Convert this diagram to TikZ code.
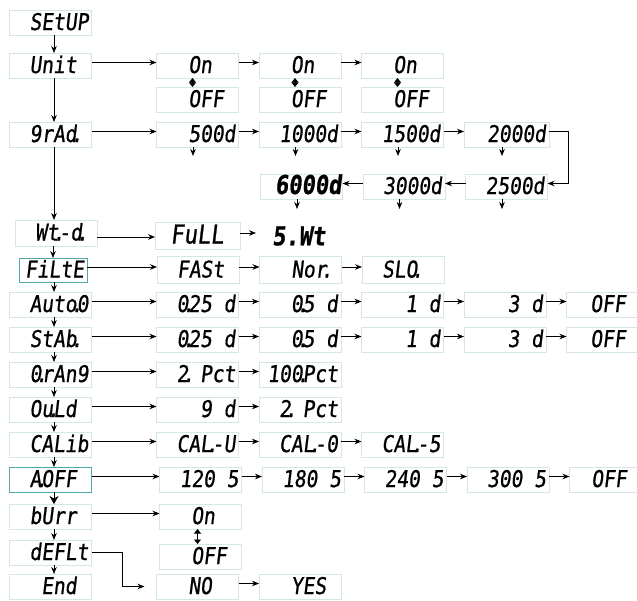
\documentclass[tikz,border=0pt]{standalone}
\usepackage{fontspec}
\usepackage{xcolor}
\usepackage{tikz}
\usetikzlibrary{arrows.meta, positioning}

\newfontfamily\lcdfont[FakeStretch=0.85, FakeSlant=0.12, FakeBold=0.8]{DejaVu Sans Mono}
\newcommand\lcd{\lcdfont\fontsize{23pt}{23pt}\selectfont}
\newcommand\lcdbig{\lcdfont\fontsize{26pt}{26pt}\selectfont}
\newcommand\blk{\phantom{0}}
\newcommand\lcdpt{\makebox[0pt]{.}}

\definecolor{boxline}{RGB}{212,230,230}
\definecolor{tealline}{RGB}{80,168,168}

\begin{document}
\begin{tikzpicture}
\tikzstyle{lcdbox} = [rectangle, draw=boxline, line width=0.8pt, outer sep=0pt, text width=76pt, align=right, inner xsep=3pt, inner ysep=2pt, minimum height=25pt, text height=17pt, text depth=2pt, font=\lcd]
\tikzstyle{arrow} = [line width=0.7pt, ->, >={Stealth[length=7pt, width=5.5pt]}]
\tikzstyle{hop} = [arrow, transform canvas={yshift=3pt}]
\tikzstyle{down} = [arrow, transform canvas={xshift=3.5pt}]
\tikzstyle{toggle} = [line width=0.7pt, {Triangle[length=4.5pt, width=7pt]}-{Triangle[length=4.5pt, width=7pt]}]

\useasboundingbox (0,0) rectangle (637pt,-600pt);

\node (setup) [lcdbox] at (50.5pt,-22.5pt) {SEtUP};
\node (unit) [lcdbox, below=18pt of setup] {Unit\blk};
\node (grad) [lcdbox, below=44pt of unit] {9rAd\lcdpt\blk};
\node (wtd) [lcdbox, below=73pt of grad, xshift=5.5pt, minimum height=26pt] {Wt\lcdpt-d\lcdpt\blk};
\node (filte) [lcdbox, draw=tealline, text width=62pt, minimum height=24pt, below=12pt of wtd, xshift=-3pt] {FiLtE};
\node (auto) [lcdbox, below=10pt of filte, xshift=-2.5pt] {Auto\lcdpt 0};
\node (stab) [lcdbox, below=10pt of auto] {StAb\lcdpt\blk};
\node (orang) [lcdbox, below=10pt of stab] {0\lcdpt rAn9};
\node (ould) [lcdbox, below=10pt of orang] {Ou\lcdpt Ld\blk};
\node (calib) [lcdbox, below=10pt of ould] {CALib};
\node (aoff) [lcdbox, draw=tealline, below=10pt of calib] {A\lcdpt OFF\blk};
\node (burr) [lcdbox, below=12pt of aoff] {bUrr\blk};
\node (deflt) [lcdbox, below=11pt of burr] {dEFLt};
\node (theend) [lcdbox, below=9pt of deflt] {End\blk};

\node (unon1) [lcdbox, right=65pt of unit] {On\blk\blk};
\node (unon2) [lcdbox, right=20.5pt of unon1] {On\blk\blk};
\node (unon3) [lcdbox, right=20.5pt of unon2] {On\blk\blk};
\node (unoff1) [lcdbox, below=9pt of unon1] {OFF\blk};
\node (unoff2) [lcdbox, below=9pt of unon2] {OFF\blk};
\node (unoff3) [lcdbox, below=9pt of unon3] {OFF\blk};

\node (gr500) [lcdbox, right=65pt of grad] {500d};
\node (gr1000) [lcdbox, right=20.5pt of gr500] {1000d};
\node (gr1500) [lcdbox, right=20.5pt of gr1000] {1500d};
\node (gr2000) [lcdbox, right=20.5pt of gr1500, text width=79pt] {2000d};
\node (gr2500) [lcdbox, below=27pt of gr2000] {2500d};
\node (gr3000) [lcdbox, left=20.5pt of gr2500] {3000d};
\node (gr6000) [lcdbox, left=20.5pt of gr3000, font=\lcdbig\bfseries, inner xsep=1pt, text width=80pt] {6000d};

\node (full) [lcdbox, font=\lcdbig, right=58pt of wtd, yshift=-3pt, minimum height=27pt, text width=79pt] {FuLL\blk};
\node (swt) [font=\lcdbig\bfseries, right=30pt of full, inner sep=2pt] {5.Wt};

\node (fast) [lcdbox, right=70pt of filte, minimum height=27pt] {FASt\blk};
\node (nor) [lcdbox, right=20.5pt of fast, minimum height=27pt] {Nor\lcdpt\blk};
\node (slo) [lcdbox, right=20.5pt of nor, minimum height=27pt] {SLO\lcdpt\blk\blk};

\node (au025) [lcdbox, right=65pt of auto] {0\lcdpt 25\blk d};
\node (au05) [lcdbox, right=20.5pt of au025] {0\lcdpt 5\blk d};
\node (au1) [lcdbox, right=20.5pt of au05] {1\blk d};
\node (au3) [lcdbox, right=20.5pt of au1] {3\blk d};
\node (auoff) [lcdbox, right=20.5pt of au3, text width=68pt] {OFF\blk};

\node (st025) [lcdbox, right=65pt of stab] {0\lcdpt 25\blk d};
\node (st05) [lcdbox, right=20.5pt of st025] {0\lcdpt 5\blk d};
\node (st1) [lcdbox, right=20.5pt of st05] {1\blk d};
\node (st3) [lcdbox, right=20.5pt of st1] {3\blk d};
\node (stoff) [lcdbox, right=20.5pt of st3, text width=68pt] {OFF\blk};

\node (or2) [lcdbox, right=65pt of orang] {2\lcdpt\blk Pct};
\node (or100) [lcdbox, right=20.5pt of or2] {100\lcdpt Pct};

\node (ol9) [lcdbox, right=65pt of ould] {9\blk d};
\node (ol2) [lcdbox, right=20.5pt of ol9] {2\lcdpt\blk Pct};

\node (calu) [lcdbox, right=65pt of calib] {CAL\lcdpt-U};
\node (calo) [lcdbox, right=20.5pt of calu] {CAL\lcdpt-0};
\node (cals) [lcdbox, right=20.5pt of calo] {CAL\lcdpt-5};

\node (t120) [lcdbox, right=68pt of aoff] {120\blk 5};
\node (t180) [lcdbox, right=20.5pt of t120] {180\blk 5};
\node (t240) [lcdbox, right=20.5pt of t180] {240\blk 5};
\node (t300) [lcdbox, right=20.5pt of t240] {300\blk 5};
\node (toff) [lcdbox, right=20.5pt of t300, text width=66pt] {OFF\blk};

\node (bon) [lcdbox, right=68pt of burr] {On\blk\blk};
\node (boff) [lcdbox, below=15pt of bon] {OFF\blk};

\node (dno) [lcdbox, right=65pt of theend] {NO\blk\blk};
\node (dyes) [lcdbox, right=20.5pt of dno] {YES\blk};

\draw [down] (setup) -- (unit);
\draw [down] (unit) -- (grad);
\draw [down] (grad) -- (grad |- wtd.north);
\draw [arrow] (filte.north |- wtd.south) -- (filte.north);
\draw [down] (auto |- filte.south) -- (auto);
\draw [down] (auto) -- (stab);
\draw [down] (stab) -- (orang);
\draw [down] (orang) -- (ould);
\draw [down] (ould) -- (calib);
\draw [down] (calib) -- (aoff);
\draw [down, >={Stealth[length=8pt, width=9pt]}] (aoff) -- (burr);
\draw [down] (burr) -- (deflt);
\draw [down] (deflt) -- (theend);

\draw [hop] (unit) -- (unon1);
\draw [hop] (unon1) -- (unon2);
\draw [hop] (unon2) -- (unon3);
\draw [toggle] ([xshift=-5pt]unon1.south) -- ([xshift=-5pt]unoff1.north);
\draw [toggle] ([xshift=-5pt]unon2.south) -- ([xshift=-5pt]unoff2.north);
\draw [toggle] ([xshift=-5pt]unon3.south) -- ([xshift=-5pt]unoff3.north);

\draw [hop] (grad) -- (gr500);
\draw [hop] (gr500) -- (gr1000);
\draw [hop] (gr1000) -- (gr1500);
\draw [hop] (gr1500) -- (gr2000);
\draw [hop] (gr2000.east) -- ++(19pt,0) |- (gr2500.east);
\draw [hop] (gr2500) -- (gr3000);
\draw [hop] (gr3000) -- (gr6000);
\draw [arrow] ([xshift=-4.5pt]gr500.south) -- ++(0,-9pt);
\draw [arrow] ([xshift=-4.5pt]gr1000.south) -- ++(0,-9pt);
\draw [arrow] ([xshift=-4.5pt]gr1500.south) -- ++(0,-9pt);
\draw [arrow] ([xshift=-4.5pt]gr2000.south) -- ++(0,-9pt);
\draw [arrow] ([xshift=-4.5pt]gr2500.south) -- ++(0,-10pt);
\draw [arrow] ([xshift=-4.5pt]gr3000.south) -- ++(0,-10pt);
\draw [arrow] ([xshift=-4.5pt]gr6000.south) -- ++(0,-10pt);

\draw [arrow] ([yshift=-4pt]wtd.east) -- ([yshift=-4pt]wtd.east -| full.west);
\draw [hop, shorten >=14pt] (full) -- (swt);

\draw [hop] (filte) -- (fast);
\draw [hop] (fast) -- (nor);
\draw [hop] (nor) -- (slo);

\draw [hop] (auto) -- (au025);
\draw [hop] (au025) -- (au05);
\draw [hop] (au05) -- (au1);
\draw [hop] (au1) -- (au3);
\draw [hop] (au3) -- (auoff);

\draw [hop] (stab) -- (st025);
\draw [hop] (st025) -- (st05);
\draw [hop] (st05) -- (st1);
\draw [hop] (st1) -- (st3);
\draw [hop] (st3) -- (stoff);

\draw [hop] (orang) -- (or2);
\draw [hop] (or2) -- (or100);

\draw [hop] (ould) -- (ol9);
\draw [hop] (ol9) -- (ol2);

\draw [hop] (calib) -- (calu);
\draw [hop] (calu) -- (calo);
\draw [hop] (calo) -- (cals);

\draw [hop] (aoff) -- (t120);
\draw [hop] (t120) -- (t180);
\draw [hop] (t180) -- (t240);
\draw [hop] (t240) -- (t300);
\draw [hop] (t300) -- (toff);

\draw [hop] (burr) -- (bon);
\draw [toggle] ([xshift=-3pt]bon.south) -- ([xshift=-3pt]boff.north);

\draw [arrow, shorten >=12pt] (deflt.east) -- ++(31pt,0) |- (dno.west);
\draw [hop] (dno) -- (dyes);

\end{tikzpicture}
\end{document}
